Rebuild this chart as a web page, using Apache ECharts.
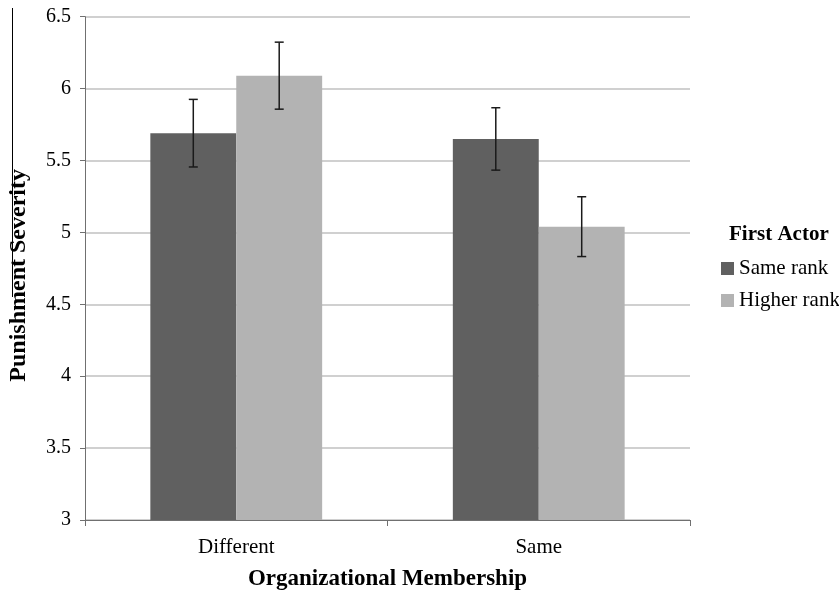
<!DOCTYPE html>
<html>
<head>
<meta charset="utf-8">
<script src="https://cdn.jsdelivr.net/npm/echarts@6/dist/echarts.min.js"></script>
<style>html,body{margin:0;padding:0;background:#fff;}#c{width:839px;height:592px;}</style>
</head>
<body>
<div id="c"></div>
<script>
var categories = ['Different', 'Same'];
var seriesNames = ['Same rank', 'Higher rank'];
var sameRank = [5.69, 5.65];
var higherRank = [6.09, 5.04];
var sameRankErr = [0.235, 0.217];
var higherRankErr = [0.233, 0.208];
var yTicks = { min: 3, max: 6.5, interval: 0.5 };

var BAR_FRAC = 0.284;
var FONT = '"Liberation Serif", "Times New Roman", serif';

function errorSeries(values, errs, sideIdx) {
  var data = values.map(function (v, i) { return [i, v - errs[i], v + errs[i]]; });
  return {
    type: 'custom',
    z: 10,
    silent: true,
    data: data,
    renderItem: function (params, api) {
      var idx = api.value(0);
      var band = api.size([1, 0])[0];
      var off = (sideIdx === 0 ? -1 : 1) * band * BAR_FRAC / 2;
      var lo = api.coord([idx, api.value(1)]);
      var hi = api.coord([idx, api.value(2)]);
      var x = lo[0] + off;
      var cap = 4.5;
      var st = { stroke: '#1a1a1a', lineWidth: 1.5 };
      return {
        type: 'group',
        children: [
          { type: 'line', shape: { x1: x, y1: lo[1], x2: x, y2: hi[1] }, style: st },
          { type: 'line', shape: { x1: x - cap, y1: lo[1], x2: x + cap, y2: lo[1] }, style: st },
          { type: 'line', shape: { x1: x - cap, y1: hi[1], x2: x + cap, y2: hi[1] }, style: st }
        ]
      };
    }
  };
}

var chart = echarts.init(document.getElementById('c'));
chart.setOption({
  animation: false,
  backgroundColor: '#fff',
  textStyle: { fontFamily: FONT },
  grid: { left: 85, top: 16.7, right: 149, bottom: 72, containLabel: false, outerBoundsMode: 'none' },
  title: {
    text: 'First Actor',
    left: 729, top: 224,
    padding: 0,
    textStyle: { fontFamily: FONT, fontWeight: 'bold', fontSize: 21, lineHeight: 21, color: '#000' }
  },
  legend: {
    orient: 'vertical',
    left: 721, top: 258,
    padding: 0,
    itemWidth: 13, itemHeight: 13, itemGap: 11,
    icon: 'rect',
    textStyle: { fontFamily: FONT, fontSize: 21, lineHeight: 21, color: '#000' },
    data: seriesNames
  },
  xAxis: {
    type: 'category',
    data: categories,
    name: 'Organizational Membership',
    nameLocation: 'middle',
    nameGap: 48,
    nameTextStyle: { fontFamily: FONT, fontWeight: 'bold', fontSize: 23, color: '#000' },
    axisLine: { lineStyle: { color: '#707070', width: 1 } },
    axisTick: { show: true, length: 6, lineStyle: { color: '#707070' } },
    axisLabel: { fontFamily: FONT, fontSize: 21, color: '#000', margin: 17 }
  },
  yAxis: {
    type: 'value',
    min: yTicks.min, max: yTicks.max, interval: yTicks.interval,
    name: 'Punishment Severity',
    nameLocation: 'middle',
    nameGap: 54,
    nameTextStyle: { fontFamily: FONT, fontWeight: 'bold', fontSize: 24, color: '#000', padding: [0, 14, 0, 0] },
    axisLine: { show: true, lineStyle: { color: '#707070', width: 1 } },
    axisTick: { show: true, length: 5, lineStyle: { color: '#707070' } },
    axisLabel: { fontFamily: FONT, fontSize: 20, color: '#000', margin: 14 },
    splitLine: { lineStyle: { color: '#c0c0c0', width: 1.5 } }
  },
  graphic: [{
    type: 'line', silent: true,
    shape: { x1: 12.5, y1: 8, x2: 12.5, y2: 297 },
    style: { stroke: '#000', lineWidth: 1 }
  }],
  series: [
    { name: seriesNames[0], type: 'bar', data: sameRank, barWidth: (BAR_FRAC * 100) + '%', barGap: '0%',
      itemStyle: { color: '#606060' } },
    { name: seriesNames[1], type: 'bar', data: higherRank, barWidth: (BAR_FRAC * 100) + '%', barGap: '0%',
      itemStyle: { color: '#b3b3b3' } },
    errorSeries(sameRank, sameRankErr, 0),
    errorSeries(higherRank, higherRankErr, 1)
  ]
});
</script>
</body>
</html>
